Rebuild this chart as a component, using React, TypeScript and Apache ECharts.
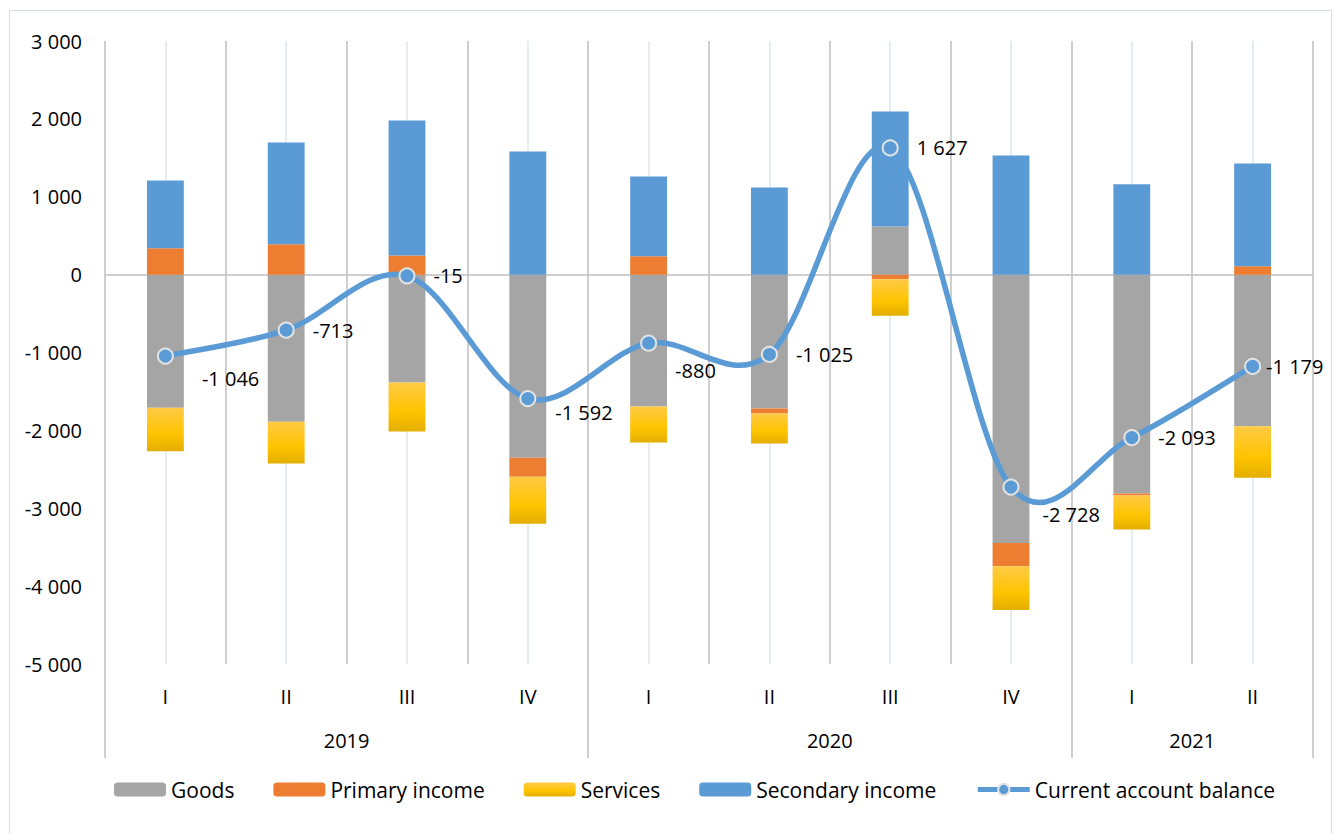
import React, { useEffect, useRef } from 'react';
import * as echarts from 'echarts';

// ---- data ----
const quarters = ['I', 'II', 'III', 'IV', 'I', 'II', 'III', 'IV', 'I', 'II'];
const years = ['2019', '2020', '2021'];
const quartersPerYear = [4, 4, 2];

const goods = [-1709, -1889, -1384, -2351, -1692, -1718, 617, -3447, -2810, -1947];
const primaryIncome = [338, 389, 244, -244, 235, -64, -60, -299, -26, 107];
const services = [-559, -536, -629, -604, -463, -385, -467, -562, -437, -662];
const secondaryIncome = [870, 1307, 1735, 1580, 1024, 1118, 1478, 1529, 1160, 1319];
const currentAccount = [-1046, -713, -15, -1592, -880, -1025, 1627, -2728, -2093, -1179];

const yTicks = { min: -5000, max: 3000, interval: 1000 };

// ---- layout tweaks for data labels (pixel offsets) ----
const caLabelOffsets: [number, number][] = [
  [10, 22], [0, 0], [0, 0], [1, 14], [0, 27], [0, 0], [0, 0], [5, 27], [0, 0], [-13, 0],
];

const FONT = "'Open Sans', 'Liberation Sans', sans-serif";
const GRID_LINE = '#BFBFBF';
const LINE_BLUE = '#5B9BD5';

const fmt = (v: number) => {
  const s = Math.abs(Math.round(v)).toString().replace(/\B(?=(\d{3})+(?!\d))/g, ' ');
  return (v < 0 ? '-' : '') + s;
};

export default function App() {
  const ref = useRef<HTMLDivElement>(null);
  useEffect(() => {
    const chart = echarts.init(ref.current!, null, { renderer: 'svg' });

    const bounds: number[] = [0];
    quartersPerYear.forEach((n) => bounds.push(bounds[bounds.length - 1] + n));
    const yearCenters = years.map((_, i) => (bounds[i] + bounds[i + 1]) / 2);

    const servicesGradient = new echarts.graphic.LinearGradient(0, 0, 0, 1, [
      { offset: 0, color: '#FFCA45' },
      { offset: 0.6, color: '#FFC400' },
      { offset: 1, color: '#E3AE00' },
    ]);

    const barCommon = {
      type: 'bar' as const,
      stack: 'total',
      barWidth: '30.5%',
      z: 2,
    };

    // Excel-like spline (Catmull-Rom, 1/6 tension) through the balance points
    const renderCurve = (params: any, api: any) => {
      if (params.dataIndex !== 0) return null;
      const pts = currentAccount.map((v, i) => api.coord([i, v]));
      let d = `M${pts[0][0]},${pts[0][1]}`;
      for (let i = 0; i < pts.length - 1; i++) {
        const p0 = pts[i - 1] || pts[i];
        const p1 = pts[i];
        const p2 = pts[i + 1];
        const p3 = pts[i + 2] || p2;
        const c1x = p1[0] + (p2[0] - p0[0]) / 6;
        const c1y = p1[1] + (p2[1] - p0[1]) / 6;
        const c2x = p2[0] - (p3[0] - p1[0]) / 6;
        const c2y = p2[1] - (p3[1] - p1[1]) / 6;
        d += ` C${c1x},${c1y} ${c2x},${c2y} ${p2[0]},${p2[1]}`;
      }
      return {
        type: 'path',
        shape: { pathData: d },
        style: { fill: 'none', stroke: LINE_BLUE, lineWidth: 5.5, lineCap: 'round', lineJoin: 'round' },
        silent: true,
      };
    };

    const option: any = {
      animation: false,
      textStyle: { fontFamily: FONT },
      graphic: [
        {
          type: 'rect',
          shape: { x: 9.5, y: 10.5, width: 1322, height: 840 },
          style: { fill: 'none', stroke: '#D9DEE6', lineWidth: 1 },
          silent: true,
          z: -1,
        },
      ],
      grid: { left: 105, right: 25, top: 41, bottom: 170, containLabel: false },
      legend: {
        left: 109,
        top: 774,
        itemWidth: 52,
        itemHeight: 14,
        itemGap: 39,
        textStyle: { fontSize: 21, color: '#000', fontFamily: FONT },
        data: [
          'Goods',
          'Primary income',
          'Services',
          'Secondary income',
          {
            name: 'Current account balance',
            lineStyle: { opacity: 1, width: 5, color: LINE_BLUE },
          },
        ],
      },
      xAxis: [
        {
          type: 'category',
          data: quarters,
          position: 'bottom',
          axisLine: { show: false },
          axisTick: { show: false },
          axisLabel: { margin: 22, fontSize: 20, color: '#000', fontFamily: FONT },
          splitLine: { show: true, lineStyle: { color: GRID_LINE, width: 1.5 } },
        },
        {
          type: 'value',
          position: 'bottom',
          min: bounds[0],
          max: bounds[bounds.length - 1],
          axisLine: { show: false },
          splitLine: { show: false },
          axisTick: {
            show: true,
            customValues: bounds,
            length: 94,
            lineStyle: { color: GRID_LINE, width: 1.5 },
          },
          axisLabel: {
            show: true,
            customValues: yearCenters,
            margin: 66,
            fontSize: 20,
            color: '#000',
            fontFamily: FONT,
            formatter: (v: number) => {
              const i = yearCenters.indexOf(v);
              return i >= 0 ? years[i] : '';
            },
          },
        },
      ],
      yAxis: {
        type: 'value',
        min: yTicks.min,
        max: yTicks.max,
        interval: yTicks.interval,
        axisLine: { show: false },
        axisTick: { show: false },
        splitLine: { show: false },
        axisLabel: { margin: 23, fontSize: 20, color: '#000', fontFamily: FONT, formatter: fmt },
      },
      series: [
        {
          ...barCommon,
          name: 'Goods',
          data: goods,
          itemStyle: { color: '#A5A5A5' },
          markLine: {
            silent: true,
            symbol: ['none', 'none'],
            z: 1,
            label: { show: false },
            data: [
              ...quarters.map((_, i) => ({ xAxis: i, lineStyle: { color: '#DDE6F2', width: 1.5, type: 'solid' } })),
              { yAxis: 0, lineStyle: { color: GRID_LINE, width: 1.5, type: 'solid' } },
            ],
          },
        },
        { ...barCommon, name: 'Primary income', data: primaryIncome, itemStyle: { color: '#ED7D31' } },
        { ...barCommon, name: 'Services', data: services, itemStyle: { color: servicesGradient } },
        { ...barCommon, name: 'Secondary income', data: secondaryIncome, itemStyle: { color: LINE_BLUE } },
        {
          name: 'balance-curve',
          type: 'custom',
          z: 4,
          silent: true,
          renderItem: renderCurve,
          encode: { x: 0, y: 1 },
          data: currentAccount.map((v, i) => [i, v]),
        },
        {
          name: 'Current account balance',
          type: 'line',
          z: 5,
          symbol: 'circle',
          symbolSize: 15,
          lineStyle: { color: LINE_BLUE, width: 5, opacity: 0 },
          itemStyle: { color: LINE_BLUE, borderColor: '#E3E3E3', borderWidth: 2 },
          label: {
            show: true,
            position: 'right',
            distance: 18,
            fontSize: 20,
            color: '#000',
            fontFamily: FONT,
            formatter: (p: any) => fmt(p.value),
          },
          data: currentAccount.map((v, i) => ({ value: v, label: { offset: caLabelOffsets[i] } })),
        },
      ],
    };

    chart.setOption(option);
    return () => chart.dispose();
  }, []);

  return (
    <div
      ref={ref}
      style={{ position: 'fixed', left: 0, top: 0, width: 1338, height: 834, background: '#fff' }}
    />
  );
}
